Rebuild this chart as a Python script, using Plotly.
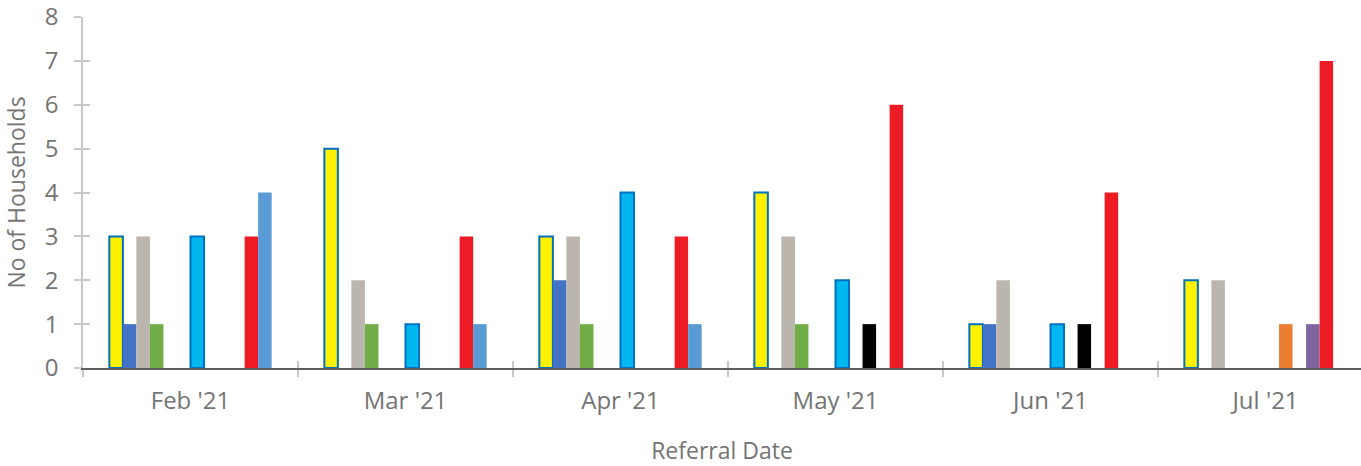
import plotly.graph_objects as go

categories = ["Feb '21", "Mar '21", "Apr '21", "May '21", "Jun '21", "Jul '21"]

series_names = [
    "Series A", "Series B", "Series C", "Series D", "Series E", "Series F",
    "Series G", "Series H", "Series I", "Series J", "Series K", "Series L",
]
series_a = [3, 5, 3, 4, 1, 2]
series_b = [1, None, 2, None, 1, None]
series_c = [3, 2, 3, 3, 2, 2]
series_d = [1, 1, 1, 1, None, None]
series_e = [None, None, None, None, None, None]
series_f = [None, None, None, None, None, None]
series_g = [3, 1, 4, 2, 1, None]
series_h = [None, None, None, None, None, 1]
series_i = [None, None, None, 1, 1, None]
series_j = [None, None, None, None, None, 1]
series_k = [3, 3, 3, 6, 4, 7]
series_l = [4, 1, 1, None, None, None]

series_values = [series_a, series_b, series_c, series_d, series_e, series_f,
                 series_g, series_h, series_i, series_j, series_k, series_l]

colors = ["#FFF200", "#4472C4", "#BAB6AE", "#70AD47", "#A5A5A5", "#FFC000",
          "#00B7F0", "#ED7D31", "#000000", "#8064A2", "#ED1C24", "#5B9BD5"]
outline = ["#0070C0", None, None, None, None, None,
           "#0070C0", None, None, None, None, None]

text_color = "#747474"
font_family = "Open Sans"
fs_tick = 24
fs_title = 23

fig = go.Figure()
for name, vals, col, oc in zip(series_names, series_values, colors, outline):
    fig.add_trace(go.Bar(
        name=name, x=categories, y=vals,
        marker=dict(color=col,
                    line=dict(color=oc if oc else col, width=2 if oc else 0)),
    ))

# dummy trace to hold the overlay axes (crossing ticks)
fig.add_trace(go.Scatter(x=[], y=[], xaxis="x2", yaxis="y2",
                         showlegend=False, hoverinfo="skip"))

n = len(categories)
plot_w = 1361 - 83
cat_px = 215.0
x_hi = -0.5 + plot_w / cat_px

fig.update_layout(
    width=1361, height=466,
    margin=dict(l=83, r=0, t=17, b=98, autoexpand=False),
    plot_bgcolor="white", paper_bgcolor="white",
    barmode="group", bargap=0.245, bargroupgap=0,
    showlegend=False,
    font=dict(family=font_family, color=text_color, size=fs_tick),
    xaxis=dict(
        type="category", categoryorder="array", categoryarray=categories,
        range=[-0.5, x_hi], automargin=False,
        showline=True, linecolor="#5F5F5F", linewidth=1.5,
        ticks="outside", tickson="boundaries", ticklen=7, tickcolor="#C8C8C8",
        tickwidth=1.5,
        showgrid=False, zeroline=False,
        ticklabelstandoff=10,
        tickfont=dict(size=fs_tick, color=text_color),
        title=dict(text="Referral Date", font=dict(size=fs_title, color=text_color),
                   standoff=28),
    ),
    yaxis=dict(
        range=[0, 8.001], dtick=1, tick0=0, automargin=False,
        showline=True, linecolor="#C8C8C8", linewidth=1.5,
        ticks="outside", ticklen=7, tickcolor="#C8C8C8", tickwidth=1.5,
        showgrid=False, zeroline=False,
        ticklabelstandoff=11, ticklabeloverflow="allow",
        tickfont=dict(size=fs_tick, color=text_color),
        title=dict(text="No of Households", font=dict(size=fs_title, color=text_color),
                   standoff=15),
    ),
    xaxis2=dict(
        overlaying="x", anchor="y2", range=[-0.5, x_hi], automargin=False,
        tickvals=[i - 0.5 for i in range(n + 1)],
        ticks="inside", ticklen=7, tickcolor="#C8C8C8", tickwidth=1.5,
        showticklabels=False, showgrid=False, zeroline=False, showline=False,
    ),
    yaxis2=dict(
        overlaying="y", anchor="x2", side="left", range=[0, 8.001], dtick=1,
        automargin=False,
        ticks="inside", ticklen=7, tickcolor="#C8C8C8", tickwidth=1.5,
        showticklabels=False, showgrid=False, zeroline=False, showline=False,
    ),
)

fig.write_html("out.html",
               config={"displayModeBar": False},
               post_script="document.body.style.margin='0px';")
